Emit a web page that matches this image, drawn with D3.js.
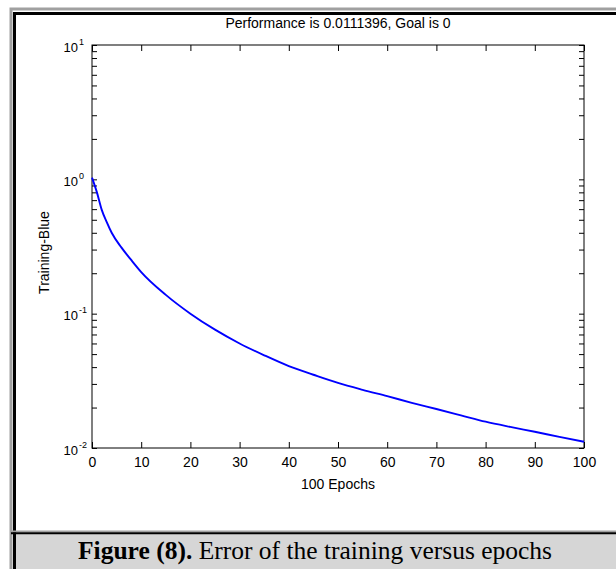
<!DOCTYPE html>
<html>
<head>
<meta charset="utf-8">
<script src="https://cdn.jsdelivr.net/npm/d3@7"></script>
<style>
body { margin: 0; background: #fff; }
.plot text { font-family: "Liberation Sans", Arial, sans-serif; fill: #000; }
</style>
</head>
<body>
<div id="chart"></div>
<script>
// values
var epochs = [0, 1, 2, 3, 4, 6, 8, 10, 15, 20, 25, 30, 35, 40, 45, 50, 55, 60, 65, 70, 75, 80, 85, 90, 95, 100];
var performance = [1.03, 0.80, 0.59, 0.48, 0.40, 0.31, 0.25, 0.204, 0.138, 0.100, 0.076, 0.060, 0.049, 0.0407,
    0.0351, 0.0305, 0.0271, 0.0243, 0.0217, 0.0195, 0.0175, 0.0157, 0.01435, 0.0132, 0.0121, 0.0111396];
var xTicks = [0, 10, 20, 30, 40, 50, 60, 70, 80, 90, 100];
var yDecades = [-2, -1, 0, 1];

var titleText = "Performance is 0.0111396, Goal is 0";
var xLabel = "100 Epochs";
var yLabel = "Training-Blue";
var captionBold = "Figure (8).";
var captionRest = " Error of the training versus epochs";

var width = 616;
var height = 569;

var margin = {
    top: 45,
    left: 92,
    right: 32,
    bottom: 121
};

var svg = d3.select("#chart")
    .append("svg")
    .attr("width", width)
    .attr("height", height);

// frame of the figure cell (table borders)
svg.append("rect")
    .attr("x", 11).attr("y", 9)
    .attr("width", width + 20).attr("height", height + 20)
    .attr("fill", "none")
    .attr("stroke", "#a0a0a0")
    .attr("stroke-width", 3);
svg.append("rect")
    .attr("x", 14.5).attr("y", 13.5)
    .attr("width", width + 20).attr("height", height + 20)
    .attr("fill", "none")
    .attr("stroke", "#000")
    .attr("stroke-width", 3);

// caption row
svg.append("rect")
    .attr("x", 16).attr("y", 534)
    .attr("width", width).attr("height", height - 534)
    .attr("fill", "#d6d6d6");
svg.append("line")
    .attr("x1", 11).attr("x2", width)
    .attr("y1", 531.5).attr("y2", 531.5)
    .attr("stroke", "#a0a0a0").attr("stroke-width", 2);
svg.append("line")
    .attr("x1", 11).attr("x2", width)
    .attr("y1", 533.2).attr("y2", 533.2)
    .attr("stroke", "#000").attr("stroke-width", 2);

var caption = svg.append("text")
    .attr("x", 315)
    .attr("y", 559)
    .attr("text-anchor", "middle")
    .style("font-family", "'Liberation Serif', 'Times New Roman', serif")
    .style("font-size", "25.5px")
    .attr("fill", "#000");
caption.append("tspan").style("font-weight", "bold").text(captionBold);
caption.append("tspan").text(captionRest);

// plot
var w = width - margin.left - margin.right;
var h = height - margin.top - margin.bottom;

var g = svg.append("g")
    .attr("class", "plot")
    .attr("transform", "translate(" + margin.left + "," + margin.top + ")");

var x = d3.scaleLinear().domain([0, 100]).range([0, w]);
var y = d3.scaleLog().domain([0.01, 10]).range([h, 0]);

var yTickValues = [];
yDecades.forEach(function(e) {
    if (e === 1) {
        yTickValues.push(10);
        return;
    }
    for (var k = 1; k < 10; k++) {
        yTickValues.push(k * Math.pow(10, e));
    }
});

function styleAxis(sel) {
    sel.select(".domain").remove();
    sel.selectAll(".tick line").attr("stroke", "#000");
    sel.selectAll("text")
        .style("font-size", "14px")
        .style("font-family", "'Liberation Sans', Arial, sans-serif");
}

g.append("g")
    .attr("transform", "translate(0," + h + ")")
    .call(d3.axisBottom(x).tickValues(xTicks).tickSizeInner(-6).tickSizeOuter(0).tickPadding(9))
    .call(styleAxis);

g.append("g")
    .call(d3.axisTop(x).tickValues(xTicks).tickSizeInner(-6).tickSizeOuter(0).tickFormat(""))
    .call(styleAxis);

g.append("g")
    .call(d3.axisLeft(y).tickValues(yTickValues).tickSizeInner(-5).tickSizeOuter(0).tickFormat(""))
    .call(styleAxis);

g.append("g")
    .attr("transform", "translate(" + w + ",0)")
    .call(d3.axisRight(y).tickValues(yTickValues).tickSizeInner(-5).tickSizeOuter(0).tickFormat(""))
    .call(styleAxis);

// y tick labels: 10 with exponent
var ylab = g.append("g")
    .selectAll("text")
    .data(yDecades)
    .enter()
    .append("text")
    .attr("x", -14)
    .attr("y", function(d) {
        return y(Math.pow(10, d)) + 6.5;
    })
    .style("font-size", "13px");
ylab.append("tspan")
    .attr("text-anchor", "end")
    .attr("x", -14)
    .text("10");
ylab.append("tspan")
    .attr("x", -13)
    .attr("dy", -7)
    .style("font-size", "9px")
    .text(function(d) {
        return d;
    });

// box
g.append("rect")
    .attr("width", w)
    .attr("height", h)
    .attr("fill", "none")
    .attr("stroke", "#000")
    .attr("stroke-width", 1);

// curve
var pts = epochs.map(function(e, j) {
    return [e, performance[j]];
});

var line = d3.line()
    .x(function(d) { return x(d[0]); })
    .y(function(d) { return y(d[1]); })
    .curve(d3.curveMonotoneX);

g.append("path")
    .datum(pts)
    .attr("d", line)
    .attr("fill", "none")
    .attr("stroke", "#0000ff")
    .attr("stroke-width", 1.9);

// title and axis labels
g.append("text")
    .attr("x", w / 2)
    .attr("y", -17)
    .attr("text-anchor", "middle")
    .style("font-size", "14px")
    .text(titleText);

g.append("text")
    .attr("x", w / 2)
    .attr("y", h + 41)
    .attr("text-anchor", "middle")
    .style("font-size", "14px")
    .text(xLabel);

g.append("text")
    .attr("transform", "translate(" + (-43) + "," + (h / 2 + 6) + ") rotate(-90)")
    .attr("text-anchor", "middle")
    .style("font-size", "14px")
    .text(yLabel);
</script>
</body>
</html>
